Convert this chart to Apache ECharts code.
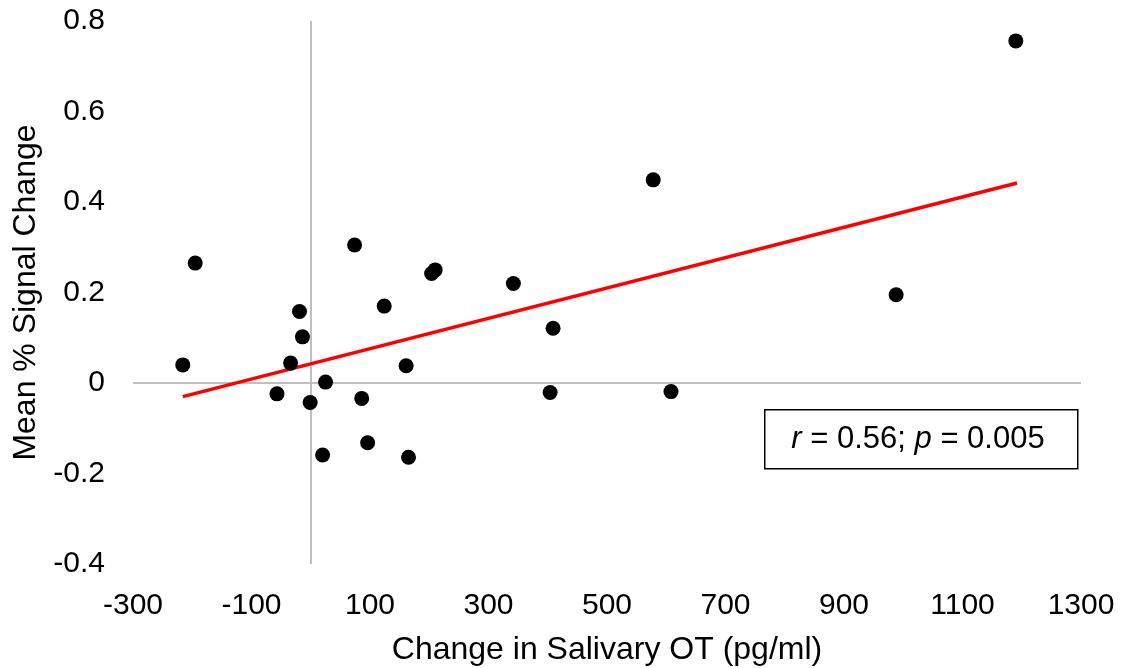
<!DOCTYPE html>
<html>
<head>
<meta charset="utf-8">
<script src="https://cdn.jsdelivr.net/npm/echarts@6/dist/echarts.min.js"></script>
<style>
html,body{margin:0;padding:0;background:#fff;}
#chart{width:1123px;height:668px;}
</style>
</head>
<body>
<div id="chart"></div>
<script>
// Data
var otChange = [-216, -195, -57, -34, -19, -14, -1, 20, 25, 74, 86, 96, 124, 161, 165, 204, 210, 342, 404, 409, 578, 608, 988, 1190];
var signalChange = [0.040, 0.265, -0.024, 0.044, 0.158, 0.102, -0.043, -0.159, 0.002, 0.305, -0.034, -0.132, 0.170, 0.038, -0.164, 0.242, 0.250, 0.220, -0.021, 0.121, 0.449, -0.019, 0.195, 0.756];
var trendX = [-216, 1192];
var trendY = [-0.030, 0.442];
var xTicks = [-300, -100, 100, 300, 500, 700, 900, 1100, 1300];
var statText = ['r', ' = 0.56; ', 'p', ' = 0.005'];

var points = otChange.map(function (x, i) { return [x, signalChange[i]]; });
var trend = trendX.map(function (x, i) { return [x, trendY[i]]; });

var FONT = '"Liberation Sans", Arial, sans-serif';
var chart = echarts.init(document.getElementById('chart'), null, {renderer: 'canvas'});
chart.setOption({
  animation: false,
  backgroundColor: '#ffffff',
  grid: {left: 133, right: 42, top: 21, bottom: 104, containLabel: false, outerBoundsMode: 'none'},
  xAxis: {
    type: 'value', min: -300, max: 1300, interval: 100,
    axisLine: {show: false}, axisTick: {show: false}, splitLine: {show: false},
    axisLabel: {
      margin: 27, color: '#000', fontSize: 30, fontFamily: FONT,
      showMinLabel: true, showMaxLabel: true,
      formatter: function (v) { return xTicks.indexOf(Math.round(v)) >= 0 ? String(Math.round(v)) : ''; }
    },
    name: 'Change in Salivary OT (pg/ml)', nameLocation: 'middle', nameGap: 70,
    nameTextStyle: {color: '#000', fontSize: 32, fontFamily: FONT}
  },
  yAxis: {
    type: 'value', min: -0.4, max: 0.8, interval: 0.2,
    axisLine: {show: false}, axisTick: {show: false}, splitLine: {show: false},
    axisLabel: {margin: 28, color: '#000', fontSize: 30, fontFamily: FONT},
    name: 'Mean % Signal Change', nameLocation: 'middle', nameGap: 89,
    nameTextStyle: {color: '#000', fontSize: 32, fontFamily: FONT}
  },
  series: [
    {
      type: 'line', data: trend, showSymbol: false, symbol: 'none',
      lineStyle: {color: '#ff0000', width: 3.5}, z: 3,
      markLine: {
        silent: true, symbol: 'none', label: {show: false},
        lineStyle: {color: '#bfbfbf', width: 2, type: 'solid'},
        data: [{xAxis: 0}, {yAxis: 0}], z: 1
      }
    },
    {
      type: 'scatter', data: points, symbol: 'circle', symbolSize: 15,
      itemStyle: {color: '#000000', opacity: 1}, z: 4
    }
  ],
  graphic: [
    {
      type: 'rect', left: 764, top: 409,
      shape: {width: 313, height: 59},
      style: {fill: '#ffffff', stroke: '#000000', lineWidth: 1.5}, z: 10
    },
    {
      type: 'text', x: 918, y: 439, z: 11,
      style: {
        text: '{i|' + statText[0] + '}' + statText[1] + '{i|' + statText[2] + '}' + statText[3],
        fill: '#000', font: '31px ' + FONT, align: 'center', verticalAlign: 'middle',
        rich: {i: {fontStyle: 'italic', fontSize: 31, fontFamily: FONT, fill: '#000'}}
      }
    }
  ]
});
</script>
</body>
</html>
